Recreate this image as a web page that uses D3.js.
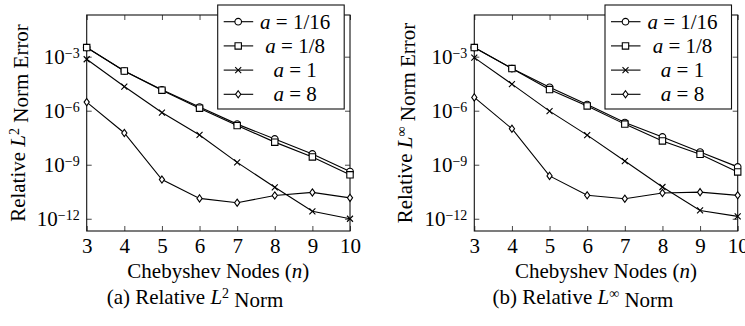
<!DOCTYPE html>
<html><head><meta charset="utf-8">
<script src="https://cdn.jsdelivr.net/npm/d3@7"></script>
<style>
body{margin:0;background:#fff}
</style></head><body>
<svg id="c" width="745" height="326"></svg>
<script>
// ---- data ----
const nodes = [3, 4, 5, 6, 7, 8, 9, 10];
const xTicks = [3, 4, 5, 6, 7, 8, 9, 10];
const yTicks = [1e-12, 1e-9, 1e-6, 1e-3];
const yTickExp = ["\u221212", "\u22129", "\u22126", "\u22123"];
const seriesA = ["1/16", "1/8", "1", "8"];
const seriesMarks = ["circle", "square", "x", "diamond"];

const l2A1_16 = [3.2e-3, 1.6e-4, 1.45e-5, 1.6e-6, 1.8e-7, 2.7e-8, 4.0e-9, 4.2e-10];
const l2A1_8  = [3.2e-3, 1.6e-4, 1.38e-5, 1.38e-6, 1.5e-7, 1.8e-8, 2.7e-9, 2.75e-10];
const l2A1    = [7.2e-4, 2.2e-5, 7.9e-7, 4.5e-8, 1.35e-9, 5.6e-11, 2.6e-12, 1.0e-12];
const l2A8    = [3.0e-6, 5.8e-8, 1.5e-10, 1.35e-11, 7.8e-12, 1.95e-11, 2.9e-11, 1.45e-11];

const linfA1_16 = [3.2e-3, 2.2e-4, 2.0e-5, 2.2e-6, 2.2e-7, 3.5e-8, 5.1e-9, 7.6e-10];
const linfA1_8  = [3.2e-3, 2.2e-4, 1.5e-5, 1.85e-6, 1.8e-7, 2.1e-8, 3.8e-9, 4.0e-10];
const linfA1    = [8.9e-4, 3.0e-5, 9.5e-7, 4.4e-8, 1.6e-9, 5.8e-11, 2.9e-12, 1.35e-12];
const linfA8    = [5.5e-6, 1.0e-7, 2.4e-10, 2.0e-11, 1.3e-11, 2.7e-11, 3.0e-11, 2.0e-11];

const captions = ["(a) Relative ", "(b) Relative "];
const normSup = ["2", "\u221e"];
const xLabel = "Chebyshev Nodes (";

// ---- drawing ----
const svg = d3.select("#c");
const FS = 21;
const FF = '"Liberation Serif"';

const panels = [
  {left: 86.7, right: 350, top: 15, bottom: 231, series: [l2A1_16, l2A1_8, l2A1, l2A8], sup: normSup[0], cap: captions[0], legX: 217.7, ylabX: 25, capX: 195},
  {left: 474.3, right: 737.7, top: 15, bottom: 231, series: [linfA1_16, linfA1_8, linfA1, linfA8], sup: normSup[1], cap: captions[1], legX: 605, ylabX: 412, capX: 583}
];

function markPath(type) {
  if (type === "circle") return d3.symbol(d3.symbolCircle, Math.PI * 3.3 * 3.3)();
  if (type === "square") return d3.symbol(d3.symbolSquare, 6.4 * 6.4)();
  if (type === "x") { const s = 3; return `M${-s},${-s}L${s},${s}M${-s},${s}L${s},${-s}`; }
  if (type === "diamond") { const w = 2.6, h = 3.6; return `M0,${-h}L${w},0L0,${h}L${-w},0Z`; }
}

function drawMark(g, type, px, py) {
  g.append("path")
    .attr("transform", `translate(${px},${py})`)
    .attr("d", markPath(type))
    .attr("fill", type === "x" ? "none" : "#fff")
    .attr("stroke", "#000")
    .attr("stroke-width", 1.1);
}

function txt(sel) { return sel.style("font-family", FF).style("font-size", FS + "px"); }

panels.forEach((p) => {
  const x = d3.scaleLinear().domain([3, 10]).range([p.left, p.right]);
  const y = d3.scaleLog().domain([Math.pow(10, -12.68), Math.pow(10, -0.685)]).range([p.bottom, p.top]);
  const g = svg.append("g");

  // axes (ticks inside, mirrored)
  const xb = g.append("g").attr("transform", `translate(0,${p.bottom})`)
    .call(d3.axisBottom(x).tickValues(xTicks).tickSizeInner(-5).tickSizeOuter(0).tickPadding(7).tickFormat(d3.format("d")));
  const xt = g.append("g").attr("transform", `translate(0,${p.top})`)
    .call(d3.axisTop(x).tickValues(xTicks).tickSizeInner(-5).tickSizeOuter(0).tickFormat(""));
  const yl = g.append("g").attr("transform", `translate(${p.left},0)`)
    .call(d3.axisLeft(y).tickValues(yTicks).tickSizeInner(-5).tickSizeOuter(0).tickPadding(7).tickFormat(""));
  const yr = g.append("g").attr("transform", `translate(${p.right},0)`)
    .call(d3.axisRight(y).tickValues(yTicks).tickSizeInner(-5).tickSizeOuter(0).tickFormat(""));
  [xb, xt, yl, yr].forEach(a => {
    a.attr("font-family", null).attr("font-size", null);
    a.select(".domain").remove();
    a.selectAll("line").attr("stroke", "#333").attr("stroke-width", 0.9);
    txt(a.selectAll("text")).attr("fill", "#000");
  });
  xb.selectAll("text").attr("dy", "0.7em");
  yl.selectAll(".tick text").each(function(d, i) {
    const t = d3.select(this).attr("dy", "0.33em");
    t.text(null);
    t.append("tspan").text("10");
    t.append("tspan").attr("dy", "-0.45em").style("font-size", "14px").text(yTickExp[i]);
  });

  // frame
  g.append("rect").attr("x", p.left).attr("y", p.top)
    .attr("width", p.right - p.left).attr("height", p.bottom - p.top)
    .attr("fill", "none").attr("stroke", "#111").attr("stroke-width", 1.1);

  // series
  const line = d3.line().x((d, i) => x(nodes[i])).y(d => y(d));
  p.series.forEach((s) => {
    g.append("path").datum(s).attr("d", line)
      .attr("fill", "none").attr("stroke", "#000").attr("stroke-width", 1.1);
  });
  p.series.forEach((s, si) => {
    s.forEach((v, i) => drawMark(g, seriesMarks[si], x(nodes[i]), y(v)));
  });

  // legend
  const lg = g.append("g");
  lg.append("rect").attr("x", p.legX).attr("y", 5).attr("width", 126.5).attr("height", 104)
    .attr("fill", "#fff").attr("stroke", "#111").attr("stroke-width", 1.1);
  seriesA.forEach((a, i) => {
    const cy = 21.7 + i * 24.2;
    lg.append("line").attr("x1", p.legX + 6).attr("x2", p.legX + 35.5).attr("y1", cy).attr("y2", cy)
      .attr("stroke", "#000").attr("stroke-width", 1.1);
    drawMark(lg, seriesMarks[i], p.legX + 20.5, cy);
    const t = txt(lg.append("text")).attr("x", p.legX + 77.5).attr("y", cy).attr("dy", "0.33em")
      .attr("text-anchor", "middle");
    t.append("tspan").style("font-style", "italic").text("a");
    t.append("tspan").text(" = " + a);
  });

  // y label
  const yt = txt(g.append("text")).attr("transform", `translate(${p.ylabX},${(p.top + p.bottom) / 2}) rotate(-90)`)
    .attr("text-anchor", "middle");
  yt.append("tspan").text("Relative ");
  yt.append("tspan").style("font-style", "italic").text("L");
  yt.append("tspan").attr("dy", "-0.45em").style("font-size", "14px").text(p.sup);
  yt.append("tspan").attr("dy", "0.45em").text(" Norm Error");

  // x label
  const xl = txt(g.append("text")).attr("x", (p.left + p.right) / 2).attr("y", 278)
    .attr("text-anchor", "middle");
  xl.append("tspan").text(xLabel);
  xl.append("tspan").style("font-style", "italic").text("n");
  xl.append("tspan").text(")");

  // caption
  const ct = txt(g.append("text")).attr("x", p.capX).attr("y", 304)
    .attr("text-anchor", "middle");
  ct.append("tspan").text(p.cap);
  ct.append("tspan").style("font-style", "italic").text("L");
  ct.append("tspan").attr("dy", "-0.45em").style("font-size", "14px").text(p.sup);
  ct.append("tspan").attr("dy", "0.45em").text(" Norm");
});
</script>
</body></html>
